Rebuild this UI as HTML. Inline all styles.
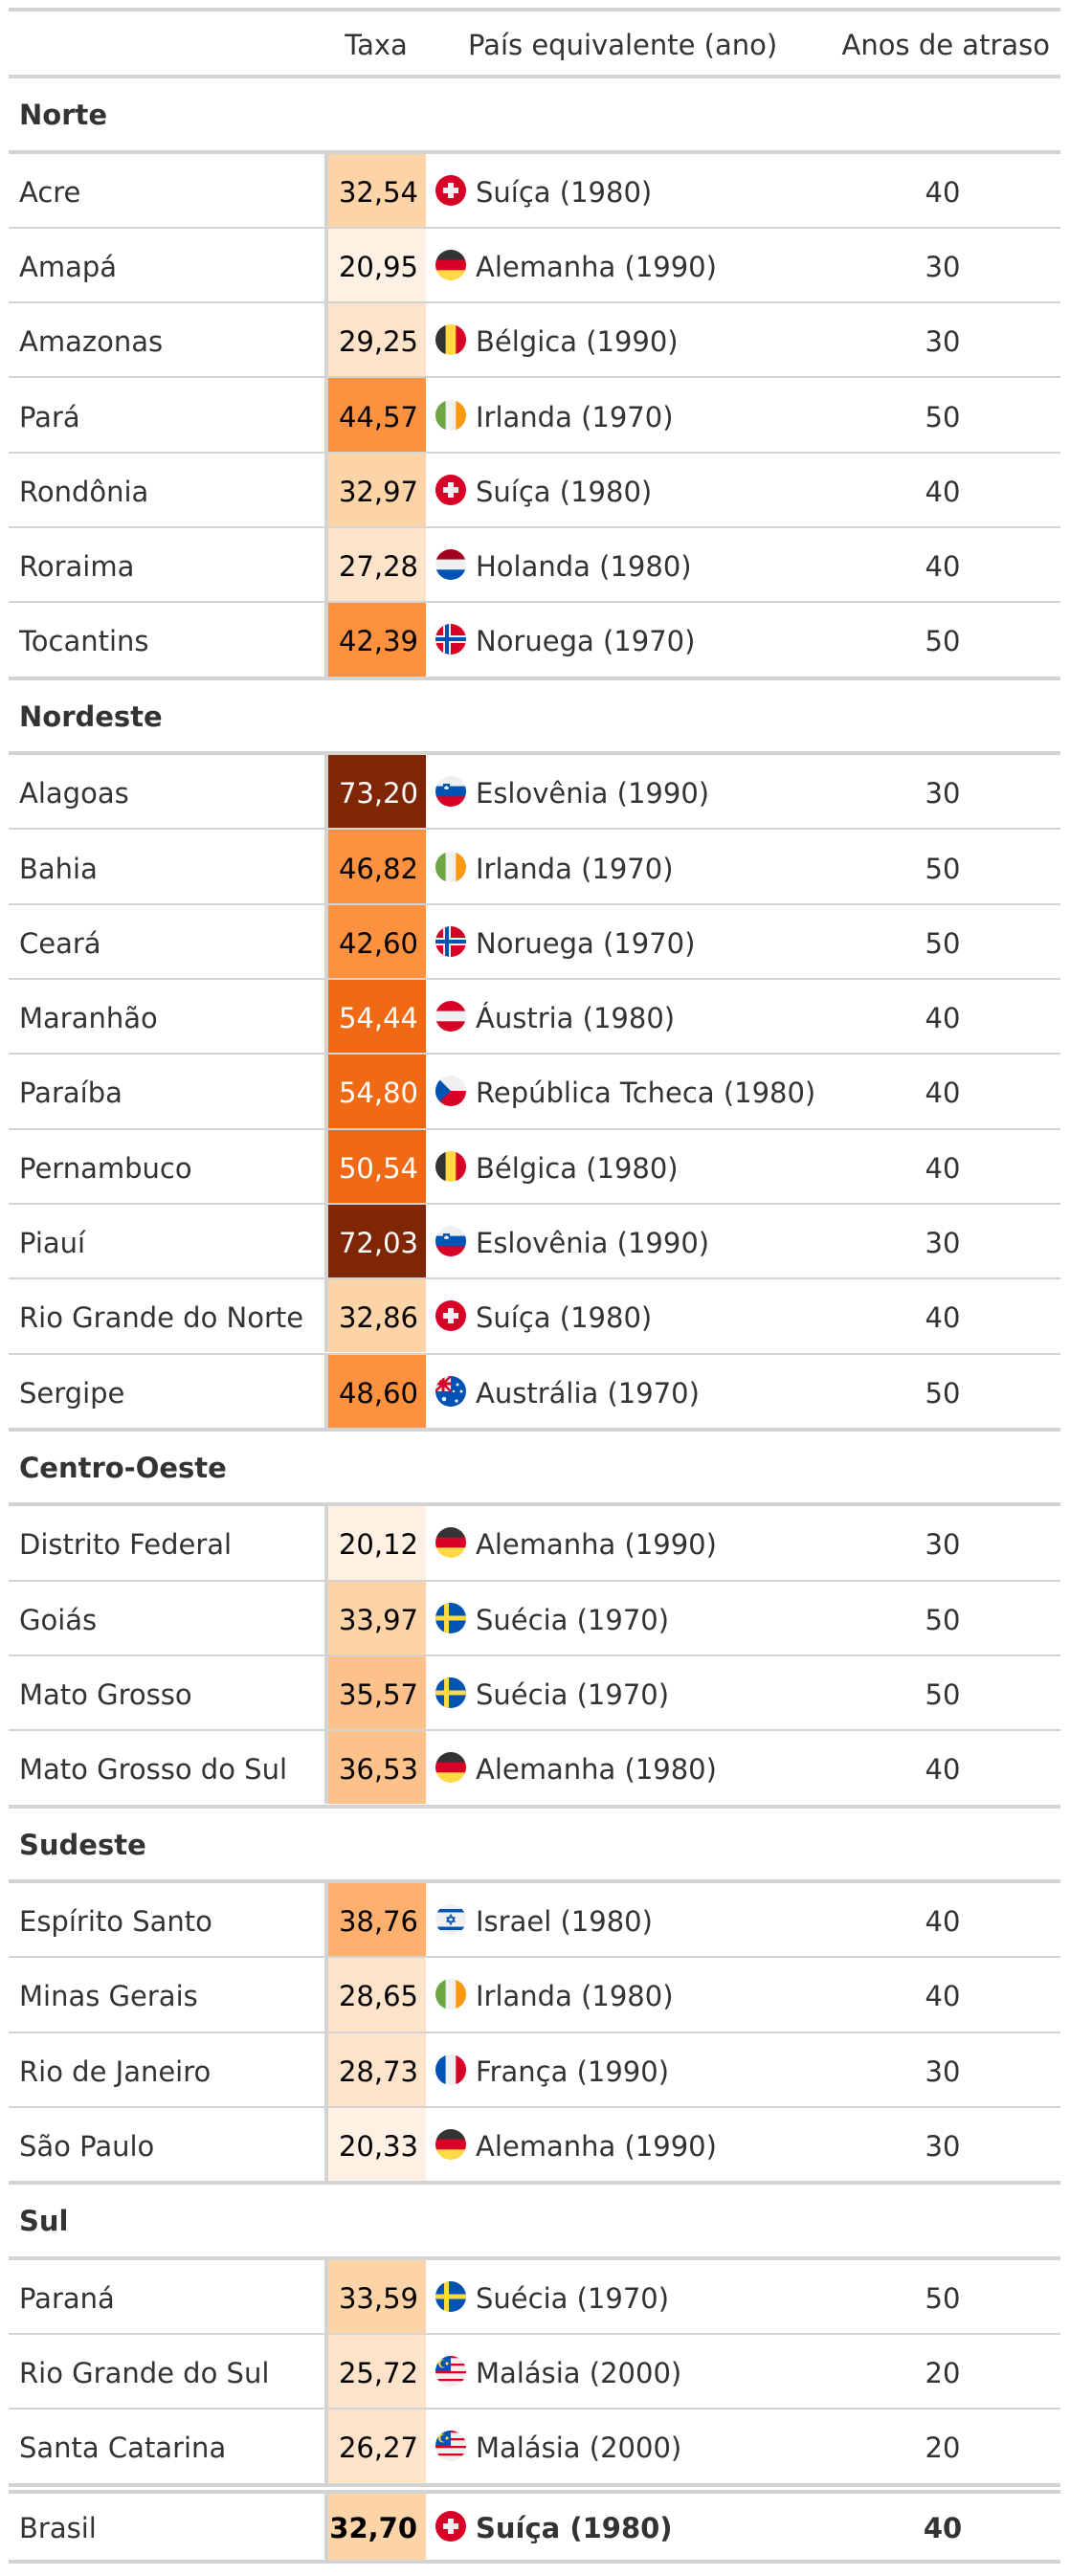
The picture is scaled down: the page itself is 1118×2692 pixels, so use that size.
<!DOCTYPE html>
<html><head><meta charset="utf-8">
<style>
html,body{margin:0;padding:0;background:#fff;}
#tbl{position:relative;width:1118px;height:2692px;font-family:"DejaVu Sans","Liberation Sans",sans-serif;font-size:29px;color:#333;overflow:hidden;}
.ln{position:absolute;left:9px;width:1099px;background:#d3d3d3;}
.t{position:absolute;white-space:nowrap;line-height:40px;height:40px;}
.cell{position:absolute;left:343px;width:102px;}
.vb{position:absolute;left:339px;width:4px;background:#d3d3d3;}
.flag{position:absolute;left:455px;width:32px;height:32px;}
</style></head><body>
<div id="tbl"></div>
<script>
const regions = ["Norte","Nordeste","Centro-Oeste","Sudeste","Sul"];
const states = [
 ["Acre","Amapá","Amazonas","Pará","Rondônia","Roraima","Tocantins"],
 ["Alagoas","Bahia","Ceará","Maranhão","Paraíba","Pernambuco","Piauí","Rio Grande do Norte","Sergipe"],
 ["Distrito Federal","Goiás","Mato Grosso","Mato Grosso do Sul"],
 ["Espírito Santo","Minas Gerais","Rio de Janeiro","São Paulo"],
 ["Paraná","Rio Grande do Sul","Santa Catarina"]
];
const rates = [
 [32.54,20.95,29.25,44.57,32.97,27.28,42.39],
 [73.20,46.82,42.60,54.44,54.80,50.54,72.03,32.86,48.60],
 [20.12,33.97,35.57,36.53],
 [38.76,28.65,28.73,20.33],
 [33.59,25.72,26.27]
];
const countries = [
 ["Suíça","Alemanha","Bélgica","Irlanda","Suíça","Holanda","Noruega"],
 ["Eslovênia","Irlanda","Noruega","Áustria","República Tcheca","Bélgica","Eslovênia","Suíça","Austrália"],
 ["Alemanha","Suécia","Suécia","Alemanha"],
 ["Israel","Irlanda","França","Alemanha"],
 ["Suécia","Malásia","Malásia"]
];
const years = [
 [1980,1990,1990,1970,1980,1980,1970],
 [1990,1970,1970,1980,1980,1980,1990,1980,1970],
 [1990,1970,1970,1980],
 [1980,1980,1990,1990],
 [1970,2000,2000]
];
const lags = [
 [40,30,30,50,40,40,50],
 [30,50,50,40,40,40,30,40,50],
 [30,50,50,40],
 [40,40,30,30],
 [50,20,20]
];
const total = {name:"Brasil",rate:32.70,country:"Suíça",year:1980,lag:40};
const colorBreaks = [24,30,35,38,40,50,60];
const colorFills = ["#fef0e2","#fee3cb","#fdd3a8","#fdc28c","#fdb06e","#fd9140","#f06a16","#7f2704"];

function colorFor(v){let i=0;while(i<colorBreaks.length&&v>=colorBreaks[i])i++;return colorFills[i];}
let fid=0;
function flagSVG(c){
 const R='#d80027',W='#f0f0f0',B='#0052b4',K='#333',Y='#ffda44',G='#6da544',O='#ff9811';
 let s='';
 const h3=(a,b,c2)=>`<rect x="0" y="0" width="32" height="11" fill="${a}"/><rect x="0" y="10.6" width="32" height="11" fill="${b}"/><rect x="0" y="21.3" width="32" height="11" fill="${c2}"/>`;
 const v3=(a,b,c2)=>`<rect x="0" y="0" width="11" height="32" fill="${a}"/><rect x="10.6" y="0" width="11" height="32" fill="${b}"/><rect x="21.3" y="0" width="11" height="32" fill="${c2}"/>`;
 switch(c){
  case "Suíça": s=`<rect width="32" height="32" fill="${R}"/><rect x="13" y="8" width="6" height="16" fill="${W}"/><rect x="8" y="13" width="16" height="6" fill="${W}"/>`;break;
  case "Alemanha": s=h3(K,R,Y);break;
  case "Bélgica": s=v3(K,Y,R);break;
  case "Irlanda": s=v3(G,W,O);break;
  case "França": s=v3(B,W,R);break;
  case "Holanda": s=h3('#a2001d',W,B);break;
  case "Áustria": s=h3(R,W,R);break;
  case "Eslovênia": s=h3(W,B,R)+`<path d="M8 8 h7 v5 q-3.5 3 -7 0z" fill="${B}"/><path d="M9 12 l2.5-2 2.5 2 v1 q-2.5 2 -5 0z" fill="${W}"/>`;break;
  case "Noruega": s=`<rect width="32" height="32" fill="${R}"/><rect x="8" y="0" width="8" height="32" fill="${W}"/><rect x="0" y="12" width="32" height="8" fill="${W}"/><rect x="10" y="0" width="4" height="32" fill="${B}"/><rect x="0" y="14" width="32" height="4" fill="${B}"/>`;break;
  case "Suécia": s=`<rect width="32" height="32" fill="${B}"/><rect x="9" y="0" width="5" height="32" fill="${Y}"/><rect x="0" y="13.5" width="32" height="5" fill="${Y}"/>`;break;
  case "República Tcheca": s=`<rect width="32" height="16" fill="${W}"/><rect y="16" width="32" height="16" fill="${R}"/><path d="M0 0 L16 16 L0 32z" fill="${B}"/>`;break;
  case "Israel": s=`<rect width="32" height="32" fill="${W}"/><rect y="5" width="32" height="3.5" fill="${B}"/><rect y="23.5" width="32" height="3.5" fill="${B}"/><path d="M16 11 l4 7 h-8z M16 21 l-4 -7 h8z" fill="none" stroke="${B}" stroke-width="1.3"/>`;break;
  case "Malásia": s=`<rect width="32" height="32" fill="${W}"/>`+[0,2,4,6].map(i=>`<rect y="${i*4}" width="32" height="2.3" fill="${R}"/>`).join('')+`<rect y="0" width="16" height="16" fill="${B}"/><circle cx="7.5" cy="8" r="4.5" fill="${Y}"/><circle cx="9" cy="8" r="3.8" fill="${B}"/><circle cx="12" cy="8" r="1.6" fill="${Y}"/>`;break;
  case "Austrália": s=`<rect width="32" height="32" fill="${B}"/><rect width="16" height="16" fill="${W}"/><path d="M0 0 L16 16 M16 0 L0 16" stroke="${R}" stroke-width="2.5"/><rect x="6.5" y="0" width="3" height="16" fill="${R}"/><rect x="0" y="6.5" width="16" height="3" fill="${R}"/><circle cx="9" cy="24" r="2.3" fill="${W}"/><circle cx="23" cy="9" r="1.5" fill="${W}"/><circle cx="27" cy="16" r="1.5" fill="${W}"/><circle cx="22" cy="26" r="1.6" fill="${W}"/><circle cx="19" cy="16" r="1.2" fill="${W}"/>`;break;
 }
 fid++;
 return `<svg viewBox="0 0 32 32" width="32" height="32"><defs><clipPath id="cc${fid}"><circle cx="16" cy="16" r="16"/></clipPath></defs><g clip-path="url(#cc${fid})">${s}</g></svg>`;
}
const T=document.getElementById('tbl');
function line(y,h){const d=document.createElement('div');d.className='ln';d.style.top=y+'px';d.style.height=h+'px';


T.appendChild(d);}
function txt(s,x,yc,opts){const d=document.createElement('div');d.className='t';d.textContent=s;d.style.top=(yc-18)+'px';
 if(opts&&opts.right!==undefined){d.style.right=(1118-opts.right)+'px';}
 else if(opts&&opts.center!==undefined){d.style.left=(opts.center-200)+'px';d.style.width='400px';d.style.textAlign='center';}
 else d.style.left=x+'px';
 if(opts&&opts.bold)d.style.fontWeight='bold';
 if(opts&&opts.color)d.style.color=opts.color;
 
 
 T.appendChild(d);return d;}
function row(name,rate,country,year,lag,top,h,bold){
 const yc=top+h/2;
 const vb=document.createElement('div');vb.className='vb';vb.style.top=top+'px';vb.style.height=h+'px';
 
 
 T.appendChild(vb);
 const c=document.createElement('div');c.className='cell';c.style.top=top+'px';c.style.height=h+'px';c.style.background=colorFor(rate);
 
 
 T.appendChild(c);
 txt(name,20,yc,{name:'state-name'});
 txt(rate.toFixed(2).replace('.',','),0,yc,{right:bold?436:437,bold:bold,color:rate>=50?'#fff':'#000',name:'taxa-value'});
 const f=document.createElement('div');f.className='flag';f.style.top=(yc-16)+'px';f.innerHTML=flagSVG(country);
 
 
 T.appendChild(f);
 txt(country+' ('+year+')',497,yc,{bold:bold,name:'equivalent-country'});
 txt(String(lag),0,yc,{center:985,bold:bold,name:'years-behind'});
}
line(8,4);
txt('Taxa',0,45,{center:393,name:'header-taxa'});
txt('País equivalente (ano)',489,45,{name:'header-country'});
txt('Anos de atraso',0,45,{right:1097,name:'header-years'});
let y=78;const RH=78.3,SH=80.5;
regions.forEach((r,i)=>{
 line(y,4);
 txt(r,20,y+40,{bold:true,name:'region-header'});
 y+=SH;line(y-2,4);
 states[i].forEach((s,j)=>{
  row(s,rates[i][j],countries[i][j],years[i][j],lags[i][j],y+2,RH-2,false);
  y+=RH;
  if(j<states[i].length-1)line(y,2);
 });
});
line(y,4);line(y+7,4);
row(total.name,total.rate,total.country,total.year,total.lag,y+11,RH-9,true);
line(y+11+RH-9,4);
</script>
</body></html>
